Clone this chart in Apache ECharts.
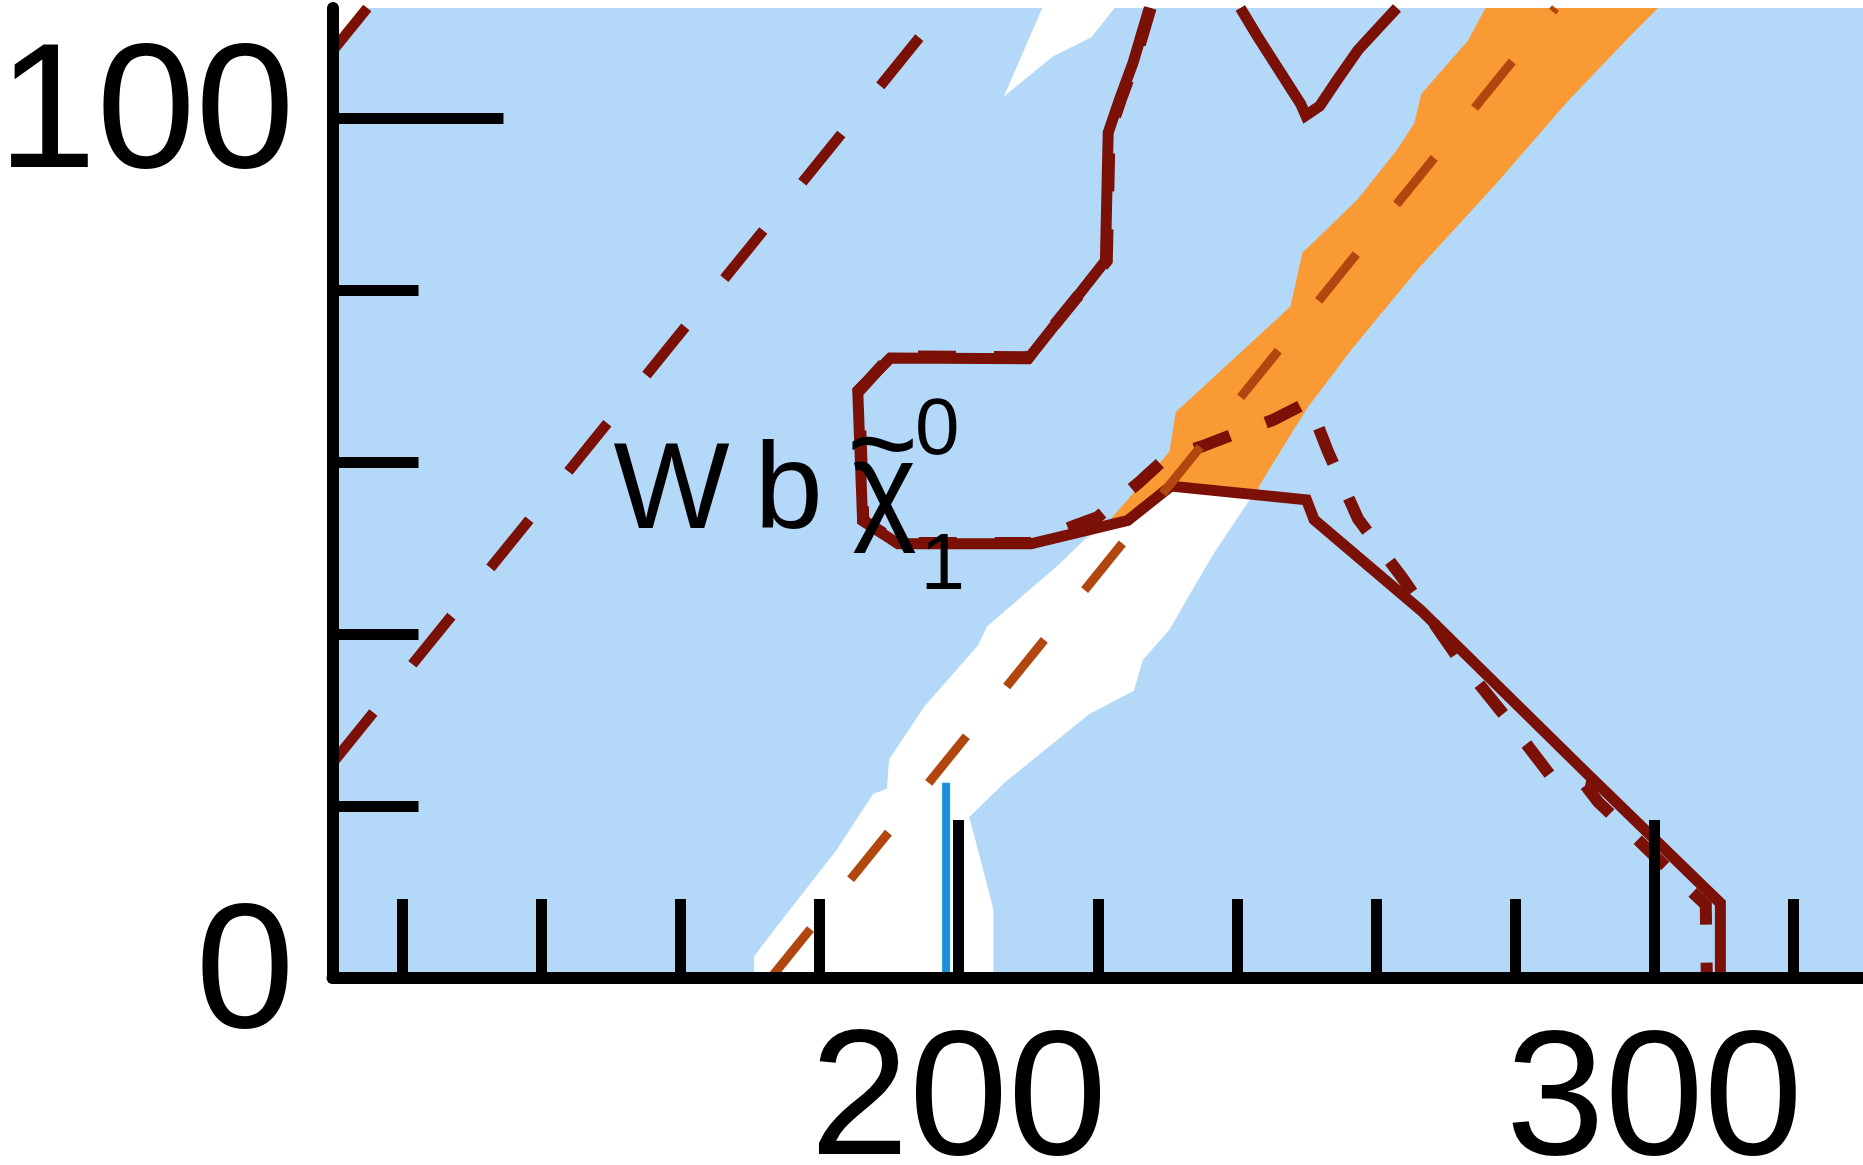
<!DOCTYPE html>
<html><head><meta charset="utf-8">
<script src="https://cdn.jsdelivr.net/npm/echarts@6/dist/echarts.min.js"></script>
<style>html,body{margin:0;padding:0;background:#ffffff;}#c{width:1863px;height:1165px;}</style>
</head><body><div id="c"></div>
<script>
// ---- axis ticks / labels ----
const xMinorTicks = [120, 140, 160, 180, 200, 220, 240, 260, 280, 300, 320];
const xMajorTicks = [200, 300];
const xTickLabels = [200, 300];
const yMinorTicks = [20, 40, 60, 80];
const yMajorTicks = [100];
const yTickLabels = [0, 100];

// ---- filled regions (x = stop mass, y = neutralino mass) ----
const whiteBand = [
  [170.6, 0], [170.6, 2.5], [173.3, 5.4], [178.4, 10.7], [182.3, 14.7], [187.7, 21.4],
  [189.7, 22.0], [190.0, 25.4], [195.1, 31.6], [202.8, 38.7], [204.1, 40.9], [214.3, 48.0],
  [218.0, 50.9], [221.2, 52.8], [224.5, 53.0], [230.5, 56.9], [242.0, 55.8],
  [236.7, 49.4], [233.5, 45.0], [230.3, 40.5], [226.5, 37.0], [225.2, 33.4], [218.8, 30.7],
  [212.4, 26.5], [206.6, 22.7], [201.5, 18.7], [202.1, 17.0], [205.0, 8.0], [205.0, 0]
];
const whiteTopPatch = [
  [212.4, 113.5], [223.1, 113.5], [219.1, 109.4], [213.6, 107.2], [206.5, 102.5]
];
const whiteCornerPatch = [
  [109, 113.5], [115.4, 113.5], [111.1, 108.2], [109, 107.6]
];
const orangeBand = [
  [276.2, 113.5], [273.2, 109.0], [266.5, 102.8], [265.5, 99.4], [263.0, 96.3], [257.3, 90.5],
  [249.4, 84.3], [247.7, 78.1], [231.2, 65.8], [230.3, 61.2], [221.9, 53.4], [224.5, 53.2],
  [230.5, 57.2], [243.0, 56.7], [243.2, 57.2], [247.2, 62.5], [250.3, 66.5], [256.6, 73.2],
  [266.1, 82.5], [277.2, 92.3], [287.5, 101.9], [296.1, 109.2], [301.4, 113.5]
];

// ---- contours ----
const observedMain = [
  [227.4, 112.8], [225.1, 106.5], [223.1, 102.1], [221.5, 98.3], [221.1, 83.4], [210.0, 72.0],
  [190.2, 72.1], [185.5, 68.3], [186.2, 53.2], [191.3, 50.5], [210.4, 50.5], [224.3, 53.2],
  [230.5, 57.2], [250.0, 55.6], [251.1, 53.3], [266.4, 42.8], [290.3, 23.8], [309.5, 8.7], [309.5, 0]
];
const observedTop = [
  [240.5, 112.8], [242.8, 109.7], [249.2, 101.6], [249.9, 100.3], [251.9, 101.4],
  [254.3, 104.3], [257.4, 107.9], [261.4, 111.4], [263.0, 112.8]
];
const expectedMain = [
  [227.6, 112.8], [225.3, 106.5], [223.3, 102.1], [221.7, 98.3], [221.3, 83.4], [210.0, 72.2],
  [190.2, 72.3], [185.7, 68.3], [186.3, 53.2], [191.3, 50.6], [210.4, 50.6], [215.0, 52.1],
  [220.0, 53.6], [225.9, 57.6], [229.8, 60.5], [234.9, 61.8], [240.1, 63.4], [245.2, 64.9],
  [250.3, 67.0], [253.1, 61.2], [257.4, 53.4], [263.8, 46.5], [271.8, 37.2], [278.8, 30.2],
  [285.2, 23.4], [290.1, 22.4], [291.9, 20.5], [299.4, 14.7], [307.4, 8.5], [307.55, 0]
];
const expectedTop = [
  [240.6, 112.8], [242.9, 109.7], [249.3, 101.6], [250.0, 100.4], [252.0, 101.5],
  [254.4, 104.4], [257.5, 108.0], [261.5, 111.5], [263.1, 112.8]
];

// ---- kinematic / other lines ----
const lineWb = [[110, 25], [197.8, 112.8]];
const lineCorner = [[110, 107.8], [115.0, 112.8]];
const lineTop = [[173, 0], [285.8, 112.8]];
const blueLine = [[198.2, 0], [198.2, 22.7]];

const labelAnchor = [150.4, 52.1];

const BLUE_BG = '#b3d8f8';
const ORANGE = '#f99a35';
const DARKRED = '#7b1106';
const BROWN = '#b2460f';
const FONT = 'Liberation Sans, Arial, sans-serif';

function polygonSeries(name, pts, color, z) {
  return {
    type: 'custom', name: name, coordinateSystem: 'cartesian2d', z: z, clip: true, silent: true,
    data: pts, encode: { x: 0, y: 1 }, animation: false,
    renderItem: function (params, api) {
      if (params.dataIndex !== 0) return null;
      const points = pts.map(function (p) { return api.coord(p); });
      return { type: 'polygon', shape: { points: points }, style: { fill: color }, silent: true };
    }
  };
}
function lineSeries(name, pts, color, width, dash, z, dashOffset) {
  return {
    type: 'line', name: name, data: pts, showSymbol: false, symbol: 'none', z: z, clip: true,
    silent: true, animation: false,
    lineStyle: { color: color, width: width, type: dash || 'solid', dashOffset: dashOffset || 0, cap: 'butt', join: 'miter' }
  };
}

const chart = echarts.init(document.getElementById('c'), null, { renderer: 'canvas', width: 1863, height: 1165 });

const labelFont = { fontFamily: FONT, fontSize: 178, color: '#000' };
const AX_W = 12;
const TICK_W = 11;

chart.setOption({
  animation: false,
  backgroundColor: '#ffffff',
  grid: { left: 332.5, right: 0, top: 8, bottom: 187, show: true, backgroundColor: BLUE_BG, borderWidth: 0,
          containLabel: false, outerBoundsMode: 'none' },
  xAxis: [
    { type: 'value', min: 110, max: 330, position: 'bottom', z: 10,
      axisLine: { show: true, lineStyle: { color: '#000', width: AX_W } },
      axisTick: { show: true, inside: true, length: 79, customValues: xMinorTicks, lineStyle: { color: '#000', width: TICK_W } },
      axisLabel: Object.assign({ show: true, customValues: xTickLabels, margin: 38 }, labelFont),
      splitLine: { show: false } },
    { type: 'value', min: 110, max: 330, position: 'bottom', z: 10,
      axisLine: { show: false },
      axisTick: { show: true, inside: true, length: 158, customValues: xMajorTicks, lineStyle: { color: '#000', width: TICK_W } },
      axisLabel: { show: false }, splitLine: { show: false } }
  ],
  yAxis: [
    { type: 'value', min: 0, max: 112.8, position: 'left', z: 10,
      axisLine: { show: true, lineStyle: { color: '#000', width: AX_W } },
      axisTick: { show: true, inside: true, length: 86, customValues: yMinorTicks, lineStyle: { color: '#000', width: TICK_W } },
      axisLabel: Object.assign({ show: true, customValues: yTickLabels, margin: 38, padding: [24, 0, 0, 0] }, labelFont),
      splitLine: { show: false } },
    { type: 'value', min: 0, max: 112.8, position: 'left', z: 10,
      axisLine: { show: false },
      axisTick: { show: true, inside: true, length: 171, customValues: yMajorTicks, lineStyle: { color: '#000', width: TICK_W } },
      axisLabel: { show: false }, splitLine: { show: false } }
  ],
  series: [
    polygonSeries('white band', whiteBand, '#ffffff', 1),
    polygonSeries('white top', whiteTopPatch, '#ffffff', 1),
    polygonSeries('white corner', whiteCornerPatch, '#ffffff', 1),
    polygonSeries('orange band', orangeBand, ORANGE, 2),
    lineSeries('observed', observedMain, DARKRED, 11, null, 3),
    lineSeries('observed top', observedTop, DARKRED, 11, null, 3),
    lineSeries('expected', expectedMain, DARKRED, 12, [38, 38], 4),
    lineSeries('expected top', expectedTop, DARKRED, 9, [38, 38], 4),
    lineSeries('Wb line', lineWb, DARKRED, 10.5, [62, 62], 4, 121),
    lineSeries('corner line', lineCorner, DARKRED, 10.5, null, 4),
    lineSeries('top line', lineTop, BROWN, 9, [60, 64], 5, 121),
    lineSeries('blue line', blueLine, '#1d8fdc', 8, null, 5)
  ]
});

// label "W b chi~_1^0", anchored at a data point
const a = chart.convertToPixel({ xAxisIndex: 0, yAxisIndex: 0 }, labelAnchor);
function txt(str, dx, baselineDy, fs) {
  return { type: 'text', z: 20, x: a[0] + dx, y: a[1] + baselineDy - 0.29 * fs,
    style: { text: str, fill: '#000', font: fs + 'px ' + FONT, align: 'left', verticalAlign: 'middle' } };
}
chart.setOption({
  graphic: [
    txt('W', 0, 0, 123),
    txt('b', 141, 0, 123),
    txt('\u03C7', 238.7, 0, 123),
    txt('~', 233.5, -43, 122),
    txt('0', 301.5, -74.5, 80),
    txt('1', 307, 60.5, 80)
  ]
});
</script></body></html>
